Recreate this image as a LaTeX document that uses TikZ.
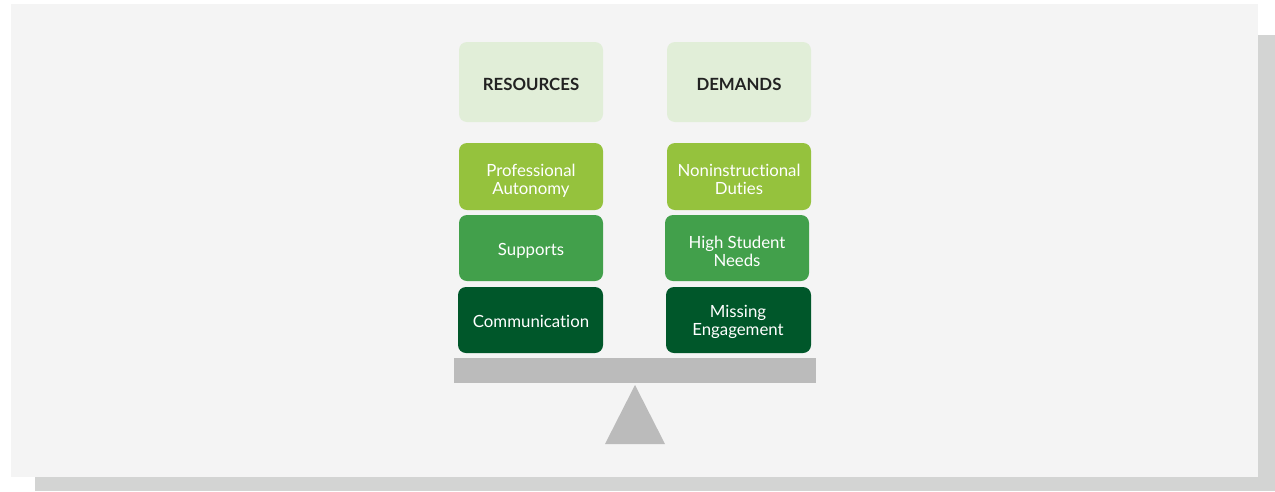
\documentclass[tikz,border=0pt]{standalone}
\usepackage{fontspec}
\setmainfont{Lato}[Ligatures={NoCommon,NoRare,NoContextual}]
\definecolor{panel}{HTML}{F4F4F4}
\definecolor{shadow}{HTML}{D3D4D3}
\definecolor{hdr}{HTML}{E1EED8}
\definecolor{lgreen}{HTML}{95C23D}
\definecolor{mgreen}{HTML}{42A04B}
\definecolor{dgreen}{HTML}{00572A}
\definecolor{beam}{HTML}{BBBBBB}
\definecolor{txt}{HTML}{222222}
\begin{document}
\begin{tikzpicture}[x=1pt,y=-1pt,
  lbl/.style={inner sep=0pt,align=center,font=\fontsize{16.8}{18}\selectfont,text=white},
  hlbl/.style={inner sep=0pt,text=txt,font=\fontsize{16.8}{18}\selectfont\bfseries},
  rbox/.style={rounded corners=8pt}]
\useasboundingbox (0,0) rectangle (1275,491);
\fill[white] (0,0) rectangle (1275,491);
\fill[shadow] (35,35) rectangle (1275,491);
\fill[panel] (11,4) rectangle (1258,477);
% header boxes
\fill[hdr,rbox] (459,42) rectangle (603,122);
\node[hlbl] (res) at (531,84) {RESOURCES};
\fill[hdr,rbox] (667,42) rectangle (811,122);
\node[hlbl] (dem) at (739,84) {DEMANDS};
% resources
\fill[lgreen,rbox] (459,143) rectangle (603,210);
\node[lbl] (pa) at (531,181) {Professional\\Autonomy};
\fill[mgreen,rbox] (459,215) rectangle (603,281);
\node[lbl] (sup) at (531,250.5) {Supports};
\fill[dgreen,rbox] (458,287) rectangle (603,353);
\node[lbl] (com) at (531,321.5) {Communication};
% demands
\fill[lgreen,rbox] (667,143) rectangle (811,210);
\node[lbl] (nd) at (739,179) {Noninstructional\\Duties};
\fill[mgreen,rbox] (665,215) rectangle (809,281);
\node[lbl] (hsn) at (737,251.5) {High Student\\Needs};
\fill[dgreen,rbox] (666,287) rectangle (811,353);
\node[lbl] (me) at (738,321.5) {Missing\\Engagement};
% scale
\fill[beam] (454,358) rectangle (816,383);
\fill[beam] (635,385) -- (665,444) -- (605,444) -- cycle;
\end{tikzpicture}
\end{document}
